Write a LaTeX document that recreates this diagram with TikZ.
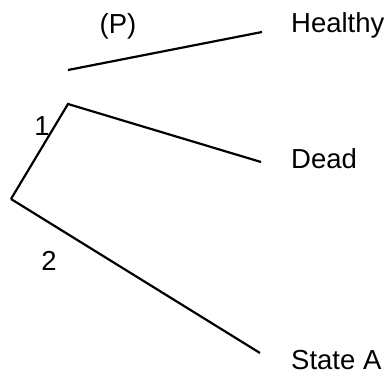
\documentclass[tikz,border=0pt]{standalone}
\usepackage{fontspec}
\setmainfont{Liberation Sans}
\begin{document}
\begin{tikzpicture}[x=1pt,y=-1pt,
  lbl/.style={inner sep=0pt,anchor=base west,font=\fontsize{27.5}{32}\selectfont},
  num/.style={inner sep=0pt,anchor=base,font=\fontsize{27.5}{32}\selectfont},
  branch/.style={line width=2.2pt,line cap=butt,line join=miter}]
\useasboundingbox (0,0) rectangle (392,375);
\coordinate (root) at (11,199);
\coordinate (n1) at (68,104);
\coordinate (p) at (68,70);
\coordinate (eH) at (262,32);
\coordinate (eD) at (261,162);
\coordinate (eA) at (260,353);
\node[lbl] (healthy) at (291,32) {Healthy};
\node[lbl] (dead) at (291,168) {Dead};
\node[lbl] (statea) at (291,369) {State A};
\node[num] (P) at (118,33) {(P)};
\node[num] (one) at (42,135) {1};
\node[num] (two) at (49,270) {2};
\draw[branch] (p) -- (eH);
\draw[branch] (root) -- (n1) -- (eD);
\draw[branch] (root) -- (eA);
\end{tikzpicture}
\end{document}
